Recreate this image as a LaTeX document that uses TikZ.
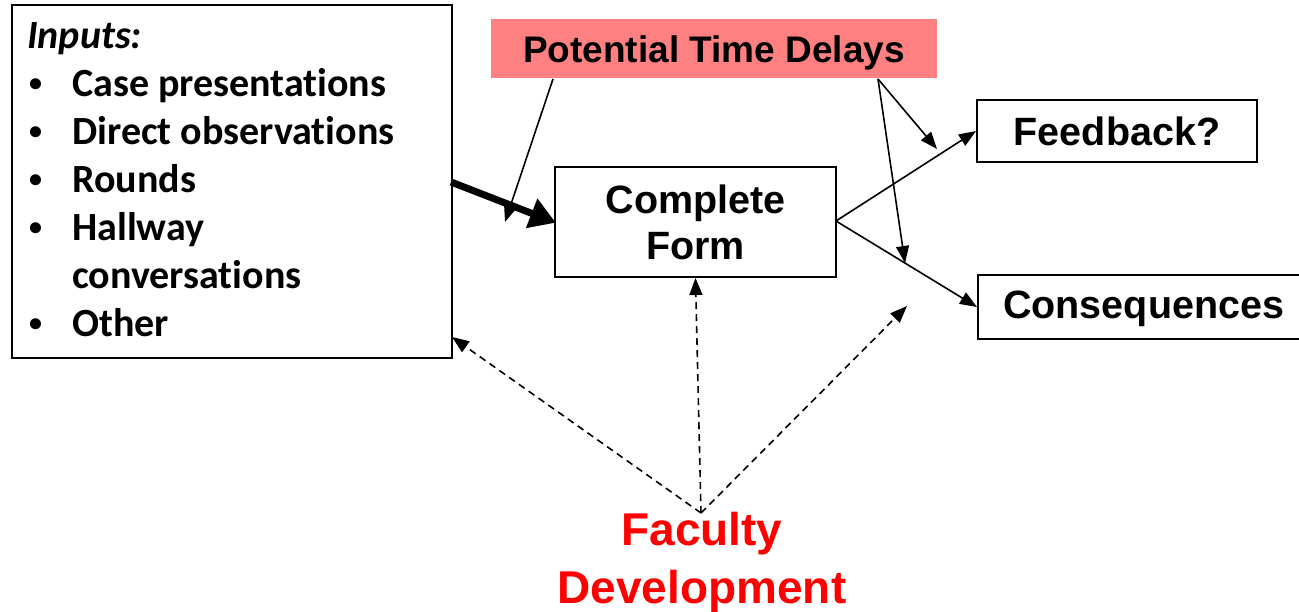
\documentclass[tikz,border=0pt]{standalone}
\usepackage{fontspec}
\setmainfont{Liberation Sans}
\newfontfamily\calibrifont[Ligatures=NoCommon]{Carlito}
\usetikzlibrary{arrows.meta}
\definecolor{delaypink}{RGB}{255,128,128}
\definecolor{facred}{RGB}{255,0,0}
\newcommand{\listdot}{\hspace{2pt}\raisebox{5pt}{\fontsize{26}{26}\selectfont\textbullet}}

\begin{document}
\begin{tikzpicture}[x=1pt,y=-1pt,
  box/.style={draw, line width=2pt, inner sep=0pt, align=center},
  lbl/.style={font=\fontsize{39.5}{46}\selectfont\bfseries},
  flow/.style={line width=1.6pt, -{Triangle[length=17pt,width=13pt]}},
  dasharrow/.style={flow, dash pattern=on 7pt off 5pt},
  bigarrow/.style={line width=7pt, -{Triangle[length=26pt,width=30pt]}, shorten >=-2pt}]
\useasboundingbox (0,0) rectangle (1299,612);

% Inputs box and its list
\node[draw, line width=2pt, anchor=north west, minimum width=440pt,
      minimum height=353pt, inner sep=0pt] (inputs) at (11,4) {};
\node[anchor=base west, inner sep=0pt] (inlist) at (27,49)
  {\calibrifont\bfseries\fontsize{40}{48}\selectfont
   \begin{tabular}[t]{@{}p{45pt}@{}l@{}}
   \multicolumn{2}{@{}l@{}}{\textit{Inputs:}}\\
   \listdot & Case presentations\\
   \listdot & Direct observations\\
   \listdot & Rounds\\
   \listdot & Hallway\\
            & conversations\\
   \listdot & Other
   \end{tabular}};

% Delay banner
\node[fill=delaypink, anchor=north west, minimum width=446pt, minimum height=59pt,
      inner sep=0pt] (delay) at (491,19) {};
\node[font=\fontsize{37}{44}\selectfont\bfseries, inner sep=0pt, anchor=base]
      (delaytext) at (714,63) {Potential Time Delays};

% Process boxes
\node[box, lbl, minimum width=281pt, minimum height=110pt] (form) at (695.5,222)
      {Complete\\Form};
\node[box, lbl, minimum width=280pt, minimum height=62pt] (feedback) at (1117,131)
      {Feedback?};
\node[draw, line width=2pt, anchor=north west, minimum width=340pt,
      minimum height=64pt, inner sep=0pt] (conseq) at (977,274) {};
\node[lbl, inner sep=0pt, anchor=base west] (conseqtext) at (1003,319) {Consequences};

% Faculty development label
\node[font=\fontsize{46}{58}\selectfont\bfseries, text=facred, align=center,
      inner sep=0pt, anchor=base] (faculty) at (702,603) {Faculty\\Development};

% Free ends of connectors
\coordinate (apex) at (701,513);
\coordinate (dl) at (553,79);
\coordinate (dr) at (878,79);
\coordinate (tipA) at (505,222);
\coordinate (tipB) at (937,149);
\coordinate (tipC) at (905,263);
\coordinate (tipD) at (907,306);
\coordinate (tipE) at (452,337);
\coordinate (formR) at (836,221);
\coordinate (thickS) at (451,182);

% Main input arrow
\draw[bigarrow] (thickS) -- (form.west);

% Delay arrows
\draw[flow] (dl) -- (tipA);
\draw[flow] (dr) -- (tipB);
\draw[flow] (dr) -- (tipC);

% Outcome arrows
\draw[flow] (formR) -- (feedback.west);
\draw[flow] (formR) -- (conseq.west);

% Faculty development influences
\draw[dasharrow] (apex) -- (tipE);
\draw[dasharrow] (apex) -- (form.south);
\draw[dasharrow] (apex) -- (tipD);
\end{tikzpicture}
\end{document}
